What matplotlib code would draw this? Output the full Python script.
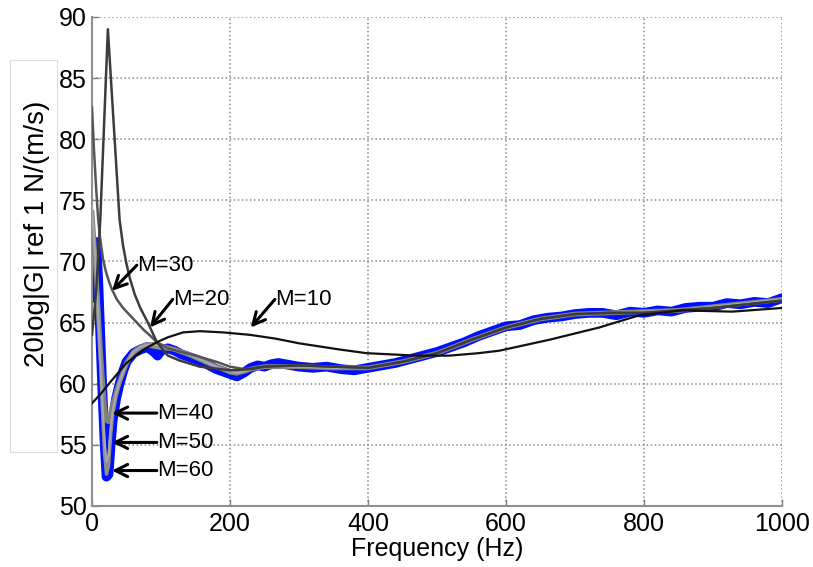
import matplotlib
matplotlib.use("Agg")
import matplotlib.pyplot as plt
from matplotlib.patches import Rectangle

plt.rcParams['font.family'] = ['Liberation Sans', 'DejaVu Sans']

# measured transfer function (blue, noisy)
f_meas = [0, 3, 6, 9, 12, 15, 18, 21, 24, 27, 30, 35, 40, 45, 50, 60, 70, 80, 90, 95,
          100, 110, 120, 130, 140, 150, 160, 170, 180, 190, 200, 210, 220, 230, 240, 250,
          260, 270, 280, 290, 300, 320, 340, 360, 380, 400, 420, 440, 460, 480, 500, 520,
          540, 560, 580, 600, 620, 640, 660, 680, 700, 720, 740, 760, 780, 800, 820, 840,
          860, 880, 900, 920, 940, 960, 980, 1000]
g_meas = [67.0, 69.5, 71.6, 68.5, 64.0, 59.5, 55.5, 52.4, 52.6, 55.0, 57.0, 58.8, 60.0, 61.0,
          61.8, 62.5, 62.8, 63.0, 62.6, 62.3, 62.7, 62.9, 62.7, 62.4, 62.2, 62.0, 61.8, 61.5,
          61.2, 61.0, 60.8, 60.6, 60.9, 61.3, 61.5, 61.4, 61.6, 61.7, 61.6, 61.5, 61.4, 61.3,
          61.4, 61.2, 61.1, 61.3, 61.5, 61.7, 62.0, 62.3, 62.6, 63.0, 63.4, 63.9, 64.3, 64.7,
          64.8, 65.2, 65.4, 65.5, 65.7, 65.8, 65.8, 65.6, 65.9, 65.8, 66.0, 65.9, 66.2, 66.3,
          66.3, 66.6, 66.5, 66.7, 66.6, 67.0]

# fitted models, shared frequency grid for the higher orders
f_fit = [0, 3, 6, 9, 12, 15, 18, 21, 24, 27, 30, 35, 40, 50, 60, 70, 80, 90, 100, 120, 140,
         160, 180, 200, 210, 220, 230, 250, 300, 350, 400, 450, 500, 550, 600, 650, 700, 750,
         800, 850, 900, 950, 1000]
g_m40 = [74.0, 71.5, 68.8, 66.0, 63.0, 60.5, 58.2, 57.0, 56.9, 57.6, 58.3, 59.3, 60.2, 61.7,
         62.6, 63.0, 63.2, 63.2, 63.1, 62.8, 62.4, 61.9, 61.4, 61.0, 60.9, 61.0, 61.2, 61.4,
         61.4, 61.3, 61.3, 61.8, 62.5, 63.6, 64.6, 65.3, 65.7, 65.8, 65.9, 66.0, 66.3, 66.6, 66.9]
g_m50 = [74.5, 72.0, 69.0, 65.5, 62.0, 58.5, 55.5, 53.6, 54.2, 56.3, 57.8, 59.2, 60.2, 61.7,
         62.6, 63.0, 63.2, 63.2, 63.1, 62.8, 62.4, 61.9, 61.4, 61.0, 60.9, 61.0, 61.2, 61.4,
         61.4, 61.3, 61.3, 61.8, 62.5, 63.6, 64.6, 65.3, 65.7, 65.8, 65.9, 66.0, 66.3, 66.6, 66.9]
g_m60 = [73.5, 71.5, 69.5, 66.5, 62.5, 58.0, 54.5, 52.6, 53.3, 55.8, 57.5, 59.0, 60.1, 61.6,
         62.5, 62.9, 63.1, 63.0, 62.9, 62.8, 62.4, 61.9, 61.4, 60.9, 60.8, 61.0, 61.2, 61.4,
         61.4, 61.3, 61.3, 61.8, 62.5, 63.6, 64.6, 65.3, 65.7, 65.8, 65.9, 66.0, 66.3, 66.6, 66.9]

f_m30 = [0, 3, 6, 9, 12, 16, 20, 25, 29, 36, 45, 55, 65, 75, 85, 94, 110, 130, 150, 180, 200,
         220, 250, 300, 350, 400, 450, 500, 550, 600, 650, 700, 750, 800, 850, 900, 950, 1000]
g_m30 = [82.6, 79.0, 76.0, 73.4, 71.8, 70.2, 69.2, 68.3, 67.7, 66.9, 66.2, 65.6, 65.0, 64.4,
         63.9, 63.4, 62.9, 62.6, 62.3, 61.8, 61.4, 61.2, 61.4, 61.5, 61.4, 61.3, 61.8, 62.5,
         63.6, 64.6, 65.3, 65.7, 65.8, 65.8, 66.0, 66.2, 66.5, 66.8]

f_m20 = [0, 6, 12, 23, 40, 45, 50, 55, 62, 70, 81, 94, 110, 127, 156, 200, 230, 250, 300,
         350, 400, 450, 500, 550, 600, 650, 700, 750, 800, 850, 900, 950, 1000]
g_m20 = [64.0, 67.5, 73.4, 89.0, 73.4, 71.3, 69.8, 68.6, 67.3, 66.2, 65.0, 63.4, 62.3, 61.9,
         61.4, 61.1, 61.2, 61.4, 61.5, 61.4, 61.3, 61.8, 62.5, 63.6, 64.6, 65.3, 65.7, 65.8,
         65.8, 66.0, 66.2, 66.5, 66.8]

f_m10 = [0, 13, 26, 50, 75, 94, 110, 132, 156, 190, 229, 265, 301, 359, 398, 470, 518, 560,
         590, 663, 735, 793, 856, 928, 1000]
g_m10 = [58.4, 59.2, 60.1, 61.7, 62.8, 63.4, 63.8, 64.2, 64.3, 64.2, 64.0, 63.7, 63.3, 62.8,
         62.5, 62.3, 62.3, 62.5, 62.7, 63.6, 64.6, 65.6, 66.0, 65.9, 66.2]

# annotation labels: text, arrow tip (x, y), text anchor (x, y)
labels = ['M=30', 'M=20', 'M=10', 'M=40', 'M=50', 'M=60']
tips = [(29, 67.6), (84, 64.6), (230, 64.6), (29, 57.6), (29, 55.2), (29, 52.9)]
anchors = [(65, 69.7), (117, 66.9), (265, 66.9), (94, 57.6), (94, 55.2), (94, 52.9)]

fig = plt.figure(figsize=(8.13, 5.67), dpi=100)
ax = fig.add_axes([92/813, 1 - 506/567, 690/813, 489/567])

ax.plot(f_meas, g_meas, color='#0010ff', lw=7, solid_capstyle='round', zorder=2)
ax.plot(f_fit, g_m40, color='#808080', lw=3.5, zorder=3)
ax.plot(f_fit, g_m60, color='#8c8c8c', lw=2.5, zorder=3)
ax.plot(f_fit, g_m50, color='#a8a8a8', lw=1.5, zorder=3)
ax.plot(f_m30, g_m30, color='#555555', lw=1.8, zorder=4)
ax.plot(f_m20, g_m20, color='#3c3c3c', lw=1.8, zorder=4)
ax.plot(f_m10, g_m10, color='#111111', lw=1.6, zorder=4)

for lab, tip, anc in zip(labels, tips, anchors):
    ax.annotate('', xy=tip, xytext=anc,
                arrowprops=dict(arrowstyle='->', color='black', lw=2.2,
                                mutation_scale=22, shrinkA=0, shrinkB=0), zorder=6)
    ax.text(anc[0], anc[1], lab, fontsize=16, ha='left', va='center', zorder=6)

ax.set_xlim(0, 1000)
ax.set_ylim(50, 90)
ax.set_xticks(range(0, 1001, 200))
ax.set_yticks(range(50, 91, 5))
ax.tick_params(direction='in', length=5, width=1, color='#808080', labelsize=18, pad=4)
ax.grid(True, linestyle=':', color='#888888', lw=1.1)
for side in ['top', 'right']:
    ax.spines[side].set_visible(False)
for side in ['left', 'bottom']:
    ax.spines[side].set_color('#909090')
    ax.spines[side].set_linewidth(1.5)

ax.set_xlabel('Frequency (Hz)', fontsize=18, labelpad=1)

# y label sits in its own framed white box
fig.patches.append(Rectangle((10/813, 1 - 452/567), 47/813, 392/567,
                             transform=fig.transFigure, facecolor='white',
                             edgecolor='#dddddd', lw=0.8))
fig.text(37/813, 1 - 234/567, '20log|G| ref 1 N/(m/s)', rotation=90, fontsize=20,
         ha='center', va='center')

fig.savefig('out.png', dpi=100)
